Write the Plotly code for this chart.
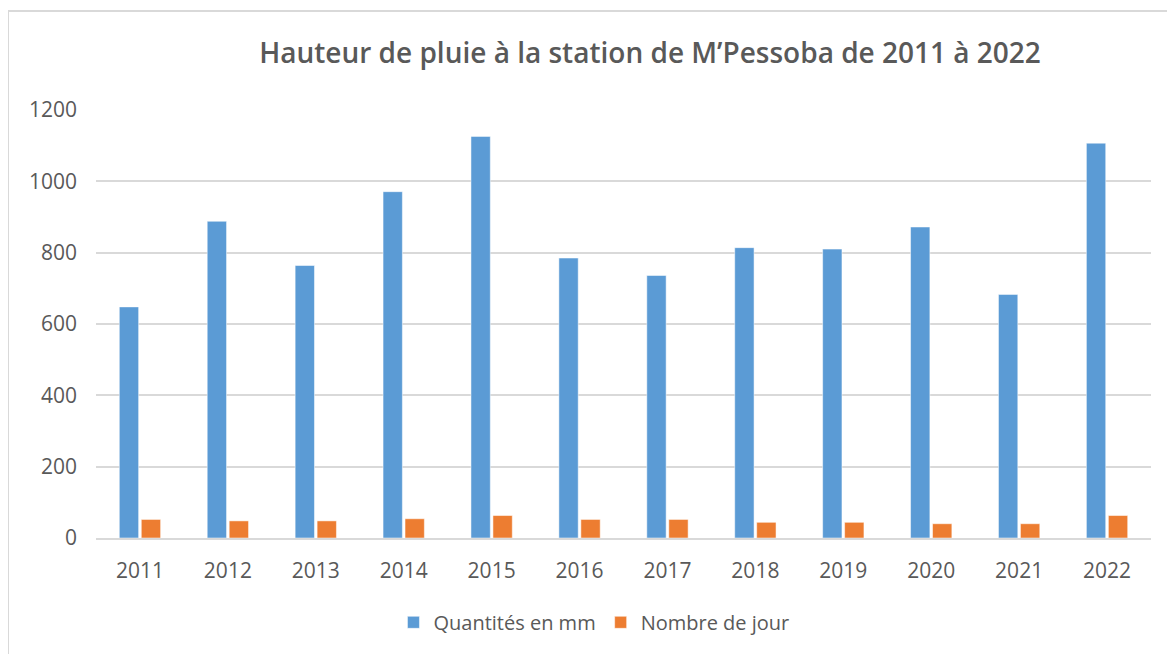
import plotly.graph_objects as go

years = ["2011", "2012", "2013", "2014", "2015", "2016", "2017", "2018", "2019", "2020", "2021", "2022"]
quantites_mm = [648, 888, 764, 971, 1126, 785, 736, 814, 810, 872, 683, 1107]
nombre_jours = [52, 48, 48, 54, 63, 52, 52, 44, 44, 40, 40, 63]
y_ticks = [0, 200, 400, 600, 800, 1000, 1200]

TXT = "#595959"
FONT = "Open Sans"

# page is rendered with an 8px body margin, so figure coords = page coords - 8
fig = go.Figure()
fig.add_trace(go.Bar(x=years, y=quantites_mm, name="Quantités en mm",
                     marker=dict(color="#5B9BD5", line=dict(color="rgba(255,255,255,0.5)", width=1))))
fig.add_trace(go.Bar(x=years, y=nombre_jours, name="Nombre de jour",
                     marker=dict(color="#ED7D31", line=dict(color="rgba(255,255,255,0.5)", width=1))))

fig.update_layout(
    width=1175, height=654,
    margin=dict(l=88, r=32, t=102, b=124),
    paper_bgcolor="white", plot_bgcolor="white",
    barmode="group", bargap=0.5, bargroupgap=0.12,
    font=dict(family=FONT, color=TXT, size=20),
    title=dict(text="Hauteur de pluie à la station de M’Pessoba de 2011 à 2022",
               x=642/1175, xref="container", xanchor="center",
               y=1-45/654, yref="container", yanchor="middle",
               font=dict(family=FONT, size=28, color=TXT, weight=600)),
    legend=dict(orientation="h", x=0.472, xanchor="center", y=-0.197, yanchor="middle",
                font=dict(family=FONT, size=20, color=TXT), itemwidth=30,
                traceorder="normal"),
    xaxis=dict(type="category", showgrid=False, showline=True, linecolor="#d9d9d9", linewidth=2,
               ticks="", ticklabelstandoff=13, tickfont=dict(size=21, color=TXT)),
    yaxis=dict(range=[0, 1200], tickvals=y_ticks, showgrid=True, gridcolor="#d9d9d9", gridwidth=1.5,
               zeroline=False, showline=False, ticks="", ticklabelstandoff=18,
               tickfont=dict(size=21, color=TXT)),
    shapes=[dict(type="rect", xref="paper", yref="paper",
                 x0=(0-88)/1055, x1=1.2, y0=-0.6, y1=1+(102-3)/428,
                 line=dict(color="#d9d9d9", width=2), layer="below")],
)

fig.write_html("out.html")
